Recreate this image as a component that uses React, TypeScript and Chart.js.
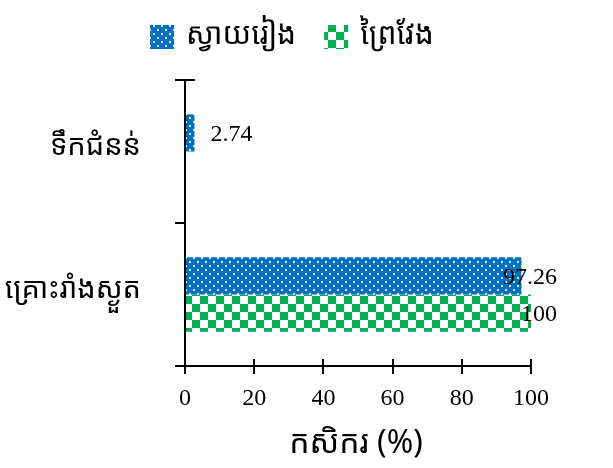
import React, { useEffect, useRef } from "react";
import { Chart, registerables } from "chart.js";

Chart.register(...registerables);

// Hazard categories (top to bottom) and the share of farmers per province
const categories = ["ទឹកជំនន់", "គ្រោះរាំងស្ងួត"];
const seriesNames = ["ស្វាយរៀង", "ព្រៃវែង"];
const svayRiengValues: (number | null)[] = [2.74, 97.26];
const preyVengValues: (number | null)[] = [null, 100];
const xTickValues = [0, 20, 40, 60, 80, 100];
const xAxisTitle = "កសិករ (%)";

const KHMER_FONT =
  '"Khmer OS", "Khmer OS System", "Noto Sans Khmer", "Noto Serif Khmer", "Noto Sans", sans-serif';
const SERIF_FONT = '"Liberation Serif", "Times New Roman", "DejaVu Serif", serif';

const BLUE = "#0070C0";
const GREEN = "#00B050";

function dottedPattern(): CanvasPattern | string {
  const c = document.createElement("canvas");
  c.width = 8;
  c.height = 8;
  const g = c.getContext("2d");
  if (!g) return BLUE;
  g.fillStyle = BLUE;
  g.fillRect(0, 0, 8, 8);
  g.fillStyle = "rgba(255,255,255,0.85)";
  g.fillRect(1, 1, 2, 2);
  g.fillRect(5, 5, 2, 2);
  return g.createPattern(c, "repeat") || BLUE;
}

function checkerPattern(): CanvasPattern | string {
  const s = 8;
  const c = document.createElement("canvas");
  c.width = s * 2;
  c.height = s * 2;
  const g = c.getContext("2d");
  if (!g) return GREEN;
  g.fillStyle = "#ffffff";
  g.fillRect(0, 0, s * 2, s * 2);
  g.fillStyle = GREEN;
  g.fillRect(0, 0, s, s);
  g.fillRect(s, s, s, s);
  return g.createPattern(c, "repeat") || GREEN;
}

export default function App() {
  const canvasRef = useRef<HTMLCanvasElement | null>(null);

  useEffect(() => {
    const canvas = canvasRef.current;
    if (!canvas) return;
    const fills = [dottedPattern(), checkerPattern()];

    // Legend, value labels, crossing tick marks and the x-axis title
    const decorations = {
      id: "decorations",
      afterDatasetsDraw(chart: any) {
        const ctx = chart.ctx as CanvasRenderingContext2D;
        const area = chart.chartArea;
        ctx.save();
        ctx.font = `24px ${SERIF_FONT}`;
        ctx.fillStyle = "#000";
        ctx.textBaseline = "middle";
        ctx.textAlign = "left";
        chart.data.datasets.forEach((ds: any, di: number) => {
          const meta = chart.getDatasetMeta(di);
          meta.data.forEach((el: any, i: number) => {
            const v = ds.data[i];
            if (v === null || v === undefined) return;
            const text = String(v);
            const w = ctx.measureText(text).width;
            const x = Math.min(el.x + 16, area.right + 26 - w);
            ctx.fillText(text, x, el.y + 2);
          });
        });
        ctx.restore();
      },
      afterDraw(chart: any) {
        const ctx = chart.ctx as CanvasRenderingContext2D;
        const xs = chart.scales.x;
        const ys = chart.scales.y;
        ctx.save();
        ctx.strokeStyle = "#000";
        ctx.lineWidth = 2;
        // inner halves of the x-axis ticks
        xTickValues.forEach((v) => {
          const px = Math.round(xs.getPixelForValue(v));
          ctx.beginPath();
          ctx.moveTo(px, ys.bottom);
          ctx.lineTo(px, ys.bottom - 7);
          ctx.stroke();
        });
        // inner half of the top category tick
        ctx.beginPath();
        ctx.moveTo(xs.left, ys.top);
        ctx.lineTo(xs.left + 10, ys.top);
        ctx.stroke();

        // legend
        ctx.font = `30px ${KHMER_FONT}`;
        ctx.textBaseline = "middle";
        ctx.textAlign = "left";
        ctx.fillStyle = "#000";
        const box = 24;
        const gapText = 12;
        const gapItem = 28;
        const widths = seriesNames.map((n) => ctx.measureText(n).width);
        const total =
          widths.reduce((a, b) => a + b, 0) + seriesNames.length * (box + gapText) + gapItem;
        let x = 292 - total / 2;
        const cy = 37;
        seriesNames.forEach((name, i) => {
          ctx.fillStyle = fills[i] as any;
          ctx.fillRect(x, cy - box / 2, box, box);
          ctx.fillStyle = "#000";
          ctx.fillText(name, x + box + gapText, cy - 2);
          x += box + gapText + widths[i] + gapItem;
        });

        // x-axis title
        ctx.font = `32px ${KHMER_FONT}`;
        ctx.textAlign = "center";
        ctx.fillText(xAxisTitle, 356, 444);
        ctx.restore();
      },
    };

    const chart = new Chart(canvas, {
      type: "bar",
      data: {
        labels: categories,
        datasets: [
          {
            label: seriesNames[0],
            data: svayRiengValues,
            backgroundColor: fills[0] as any,
            borderWidth: 0,
            categoryPercentage: 0.52,
            barPercentage: 1,
          },
          {
            label: seriesNames[1],
            data: preyVengValues,
            backgroundColor: fills[1] as any,
            borderWidth: 0,
            categoryPercentage: 0.52,
            barPercentage: 1,
          },
        ],
      },
      options: {
        indexAxis: "y",
        animation: false,
        responsive: false,
        maintainAspectRatio: false,
        layout: { padding: { top: 80, right: 82, left: 0, bottom: 0 } },
        plugins: {
          legend: { display: false },
          tooltip: { enabled: false },
        },
        scales: {
          x: {
            type: "linear",
            min: 0,
            max: 100,
            afterBuildTicks(scale: any) {
              scale.ticks = xTickValues.map((v) => ({ value: v }));
            },
            afterFit(scale: any) {
              scale.height = 102;
            },
            grid: {
              drawOnChartArea: false,
              drawTicks: true,
              tickLength: 8,
              color: "#000",
              lineWidth: 2,
            },
            border: { display: true, color: "#000", width: 2 },
            ticks: {
              color: "#000",
              font: { family: SERIF_FONT, size: 24 },
              padding: 10,
              maxRotation: 0,
            },
          },
          y: {
            type: "category",
            afterFit(scale: any) {
              scale.width = 185;
            },
            grid: {
              offset: true,
              drawOnChartArea: false,
              drawTicks: true,
              tickLength: 10,
              color: "#000",
              lineWidth: 2,
            },
            border: { display: true, color: "#000", width: 2 },
            ticks: {
              color: "#000",
              font: { family: KHMER_FONT, size: 29 },
              padding: 34,
              labelOffset: -5,
            },
          },
        },
      },
      plugins: [decorations],
    } as any);

    return () => chart.destroy();
  }, []);

  return (
    <div style={{ position: "fixed", left: 0, top: 0, width: 613, height: 468, background: "#fff" }}>
      <canvas ref={canvasRef} width={613} height={468} />
    </div>
  );
}
